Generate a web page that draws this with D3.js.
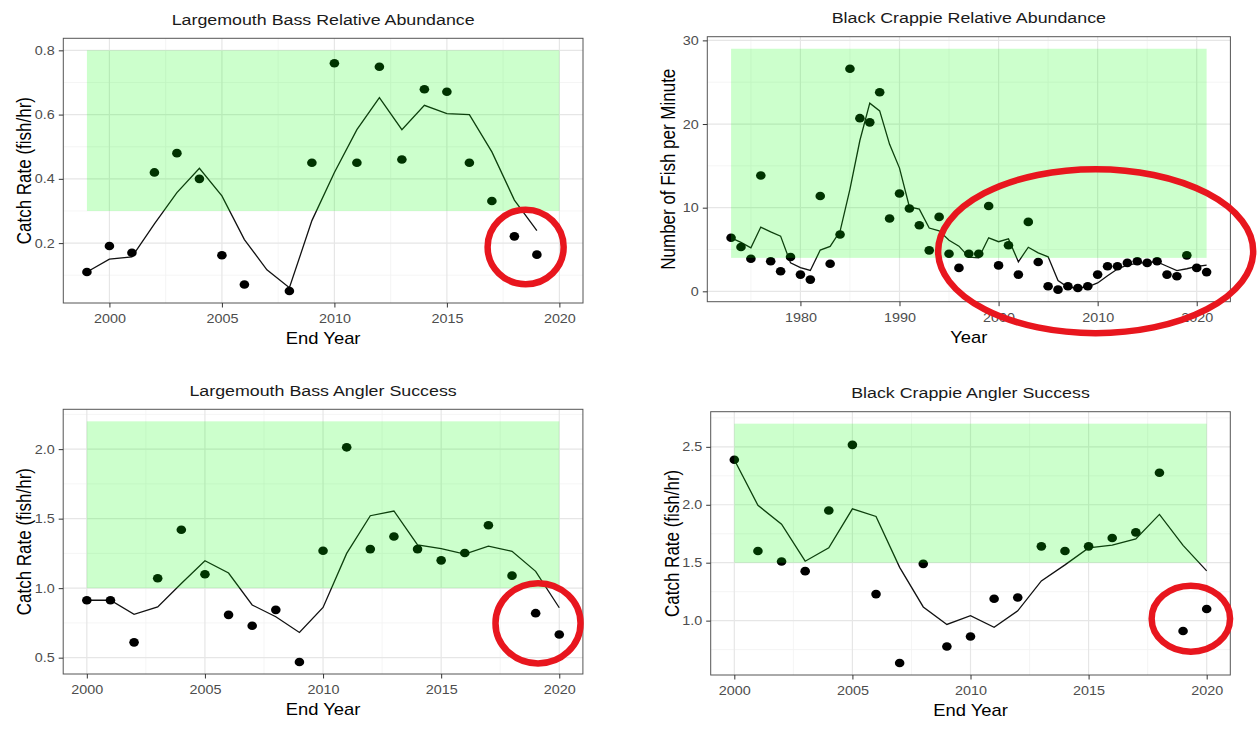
<!DOCTYPE html>
<html lang="en">
<head>
    <meta charset="UTF-8">
    <title>Largemouth Bass and Black Crappie Trends</title>
    <script src="https://d3js.org/d3.v7.min.js"></script>
    <style>
        body { margin: 0; background: white; }
        svg { display: block; font-family: "Liberation Sans", Arial, Helvetica, sans-serif; }
    </style>
</head>
<body>
    <svg width="1259" height="730"></svg>

    <script>
        // ---- Largemouth Bass Relative Abundance ----
        const lmbRaYears = [1999, 2000, 2001, 2002, 2003, 2004, 2005, 2006, 2008, 2009, 2010,
                            2011, 2012, 2013, 2014, 2015, 2016, 2017, 2018, 2019];
        const lmbRaCatch = [0.110, 0.191, 0.170, 0.42, 0.48, 0.40, 0.162, 0.071, 0.051, 0.45, 0.76,
                            0.45, 0.749, 0.46, 0.679, 0.671, 0.45, 0.331, 0.221, 0.164];
        const lmbRaTrendYears = d3.range(1999, 2020);
        const lmbRaTrend = [0.110, 0.150, 0.157, 0.260, 0.357, 0.433, 0.347, 0.211, 0.117, 0.061, 0.27,
                            0.420, 0.553, 0.653, 0.553, 0.629, 0.603, 0.600, 0.484, 0.334, 0.239];
        const lmbRaBand = [1999, 2020, 0.3, 0.8];

        // ---- Black Crappie Relative Abundance ----
        const bcRaYears = d3.range(1973, 2022);
        const bcRaCatch = [6.4, 5.3, 3.9, 13.85, 3.6, 2.4, 4.1, 2.0, 1.4, 11.4,
                           3.3, 6.8, 26.6, 20.7, 20.2, 23.8, 8.7, 11.7, 9.9, 7.9,
                           4.9, 8.9, 4.5, 2.8, 4.5, 4.5, 10.2, 3.1, 5.5, 2.0,
                           8.3, 3.5, 0.6, 0.2, 0.6, 0.4, 0.6, 2.0, 3.0, 3.0,
                           3.4, 3.6, 3.4, 3.6, 2.0, 1.8, 4.3, 2.8, 2.3];
        const bcRaTrend = [6.4, 5.85, 5.2, 7.68, 7.1, 6.6, 3.4, 2.83, 2.5, 4.93,
                           5.37, 7.17, 12.23, 18.03, 22.5, 21.57, 17.57, 14.73, 10.1, 9.83,
                           7.57, 7.23, 6.1, 5.4, 4.1, 4.0, 6.4, 5.93, 6.27, 3.53,
                           5.27, 4.6, 4.13, 1.3, 0.47, 0.4, 0.53, 1.0, 1.87, 2.67,
                           3.13, 3.33, 3.47, 3.53, 3.0, 2.47, 2.7, 2.97, 3.13];
        const bcRaBand = [1973, 2021, 4, 29];

        // ---- Largemouth Bass Angler Success ----
        const lmbAsYears = d3.range(2000, 2021);
        const lmbAsCatch = [0.913, 0.913, 0.61, 1.071, 1.42, 1.10, 0.808, 0.729, 0.844, 0.469, 1.269,
                            2.013, 1.281, 1.372, 1.281, 1.20, 1.253, 1.453, 1.09, 0.82, 0.667];
        const lmbAsTrend = [0.913, 0.913, 0.812, 0.865, 1.034, 1.197, 1.109, 0.879, 0.794, 0.681, 0.861,
                            1.25, 1.521, 1.555, 1.311, 1.284, 1.245, 1.302, 1.265, 1.121, 0.859];
        const lmbAsBand = [2000, 2020, 1.0, 2.2];

        // ---- Black Crappie Angler Success ----
        const bcAsYears = d3.range(2000, 2021);
        const bcAsCatch = [2.388, 1.601, 1.51, 1.427, 1.95, 2.517, 1.229, 0.634, 1.49, 0.777, 0.863,
                           1.189, 1.20, 1.641, 1.601, 1.641, 1.713, 1.762, 2.277, 0.911, 1.10];
        const bcAsTrend = [2.388, 1.995, 1.833, 1.513, 1.629, 1.965, 1.899, 1.46, 1.118, 0.967, 1.043,
                           0.943, 1.084, 1.343, 1.481, 1.628, 1.652, 1.705, 1.917, 1.65, 1.429];
        const bcAsBand = [2000, 2020, 1.5, 2.7];

        // tick labels
        const xTicksRecent = [2000, 2005, 2010, 2015, 2020];
        const xTicksLong = [1980, 1990, 2000, 2010, 2020];
        const yTicksLmbRa = [0.2, 0.4, 0.6, 0.8];
        const yTicksBcRa = [0, 10, 20, 30];
        const yTicksLmbAs = [0.5, 1.0, 1.5, 2.0];
        const yTicksBcAs = [1.0, 1.5, 2.0, 2.5];

        // red hand-drawn circles: [centre year, centre value, radius in years, radius in value]
        const ringLmbRa = [2018.5, 0.188, 1.69, 0.116];
        const ringBcRa = [2009.8, 4.8, 15.9, 9.8];
        const ringLmbAs = [2019.1, 0.747, 1.8, 0.289];
        const ringBcAs = [2019.33, 1.017, 1.66, 0.285];

        const SX = 1.15; // the source picture is stretched sideways

        const panels = [
            {title: "Largemouth Bass Relative Abundance", xLab: "End Year", yLab: "Catch Rate (fish/hr)",
             box: [63.3, 583, 38.3, 303], px: lmbRaYears, py: lmbRaCatch, lx: lmbRaTrendYears, ly: lmbRaTrend,
             band: lmbRaBand, xt: xTicksRecent, yt: yTicksLmbRa, fmt: d3.format(".1f"), ring: ringLmbRa},
            {title: "Black Crappie Relative Abundance", xLab: "Year", yLab: "Number of Fish per Minute",
             box: [707.3, 1230.4, 36.7, 301.7], px: bcRaYears, py: bcRaCatch, lx: bcRaYears, ly: bcRaTrend,
             band: bcRaBand, xt: xTicksLong, yt: yTicksBcRa, fmt: d3.format("d"), ring: ringBcRa},
            {title: "Largemouth Bass Angler Success", xLab: "End Year", yLab: "Catch Rate (fish/hr)",
             box: [63.2, 582.9, 409.3, 674], px: lmbAsYears, py: lmbAsCatch, lx: lmbAsYears, ly: lmbAsTrend,
             band: lmbAsBand, xt: xTicksRecent, yt: yTicksLmbAs, fmt: d3.format(".1f"), ring: ringLmbAs},
            {title: "Black Crappie Angler Success", xLab: "End Year", yLab: "Catch Rate (fish/hr)",
             box: [710.7, 1230.3, 411.7, 675], px: bcAsYears, py: bcAsCatch, lx: bcAsYears, ly: bcAsTrend,
             band: bcAsBand, xt: xTicksRecent, yt: yTicksBcAs, fmt: d3.format(".1f"), ring: ringBcAs}
        ];

        const svg = d3.select("svg");

        function addText(parent, x, y, s, size, fill, rot) {
            return parent.append("text")
                .attr("transform", `translate(${x},${y}) scale(${SX},1)` + (rot ? ` rotate(${rot})` : ""))
                .attr("text-anchor", "middle")
                .style("font-size", size + "px")
                .attr("fill", fill)
                .text(s);
        }

        // ggplot style 5% padding
        function padded(vals) {
            const [lo, hi] = d3.extent(vals);
            const e = (hi - lo) * 0.05;
            return [lo - e, hi + e];
        }

        function minorTicks(major, domain) {
            const step = major[1] - major[0];
            const out = [];
            for (let v = major[0] - step / 2; v <= domain[1]; v += step) {
                if (v >= domain[0]) out.push(v);
            }
            return out;
        }

        function drawPanel(p) {
            const [x0, x1, y0, y1] = p.box;
            const x = d3.scaleLinear()
                .domain(padded(p.px.concat(p.lx, [p.band[0], p.band[1]])))
                .range([x0, x1]);
            const y = d3.scaleLinear()
                .domain(padded(p.py.concat(p.ly, [p.band[2], p.band[3]])))
                .range([y1, y0]);

            const g = svg.append("g");

            // grid
            const grid = g.append("g").attr("fill", "none");
            minorTicks(p.xt, x.domain()).forEach(v => grid.append("line")
                .attr("x1", x(v)).attr("x2", x(v)).attr("y1", y0).attr("y2", y1)
                .attr("stroke", "#f2f2f2").attr("stroke-width", 0.8));
            minorTicks(p.yt, y.domain()).forEach(v => grid.append("line")
                .attr("x1", x0).attr("x2", x1).attr("y1", y(v)).attr("y2", y(v))
                .attr("stroke", "#f2f2f2").attr("stroke-width", 0.8));
            p.xt.forEach(v => grid.append("line")
                .attr("x1", x(v)).attr("x2", x(v)).attr("y1", y0).attr("y2", y1)
                .attr("stroke", "#e6e6e6").attr("stroke-width", 1.2));
            p.yt.forEach(v => grid.append("line")
                .attr("x1", x0).attr("x2", x1).attr("y1", y(v)).attr("y2", y(v))
                .attr("stroke", "#e6e6e6").attr("stroke-width", 1.2));

            // trend line
            const trend = p.lx.map((yr, i) => [yr, p.ly[i]]);
            g.append("path")
                .datum(trend)
                .attr("fill", "none")
                .attr("stroke", "#111")
                .attr("stroke-width", 1.3)
                .attr("d", d3.line().x(d => x(d[0])).y(d => y(d[1])));

            // points
            g.selectAll(".pt")
                .data(p.px.map((yr, i) => [yr, p.py[i]]))
                .enter().append("ellipse")
                .attr("class", "pt")
                .attr("cx", d => x(d[0]))
                .attr("cy", d => y(d[1]))
                .attr("rx", 4.8)
                .attr("ry", 4.3)
                .attr("fill", "#000");

            // target range, laid over the data
            g.append("rect")
                .attr("x", x(p.band[0]))
                .attr("width", x(p.band[1]) - x(p.band[0]))
                .attr("y", y(p.band[3]))
                .attr("height", y(p.band[2]) - y(p.band[3]))
                .attr("fill", "#00ff00")
                .attr("fill-opacity", 0.2);

            // panel border
            g.append("rect")
                .attr("x", x0).attr("y", y0)
                .attr("width", x1 - x0).attr("height", y1 - y0)
                .attr("fill", "none")
                .attr("stroke", "#555")
                .attr("stroke-width", 1);

            // axes
            const ax = g.append("g")
                .attr("transform", `translate(0,${y1})`)
                .call(d3.axisBottom(x).tickValues(p.xt).tickSize(4.5).tickSizeOuter(0).tickFormat(d3.format("d")));
            const ay = g.append("g")
                .attr("transform", `translate(${x0},0)`)
                .call(d3.axisLeft(y).tickValues(p.yt).tickSize(4.5).tickSizeOuter(0).tickFormat(p.fmt));
            [ax, ay].forEach(a => {
                a.select(".domain").remove();
                a.selectAll(".tick line").attr("stroke", "#333");
                a.selectAll(".tick text")
                    .attr("fill", "#4d4d4d")
                    .style("font-size", "12.5px")
                    .style("font-family", "inherit")
                    .attr("transform", `scale(${SX},1)`);
            });
            ax.selectAll(".tick text").attr("y", 20).attr("dy", null);
            ay.selectAll(".tick text").attr("x", -8.5 / SX);

            // labels
            addText(g, (x0 + x1) / 2, y0 - 13.5, p.title, 15.5, "#1a1a1a");
            addText(g, (x0 + x1) / 2, y1 + 41, p.xLab, 16, "#000");
            addText(g, x0 - 32, (y0 + y1) / 2, p.yLab, 17, "#000", -90);

            return {x, y};
        }

        const scales = panels.map(drawPanel);

        // red circles on top of everything
        panels.forEach((p, i) => {
            const {x, y} = scales[i];
            const [cx, cy, rx, ry] = p.ring;
            svg.append("ellipse")
                .attr("cx", x(cx))
                .attr("cy", y(cy))
                .attr("rx", x(cx + rx) - x(cx))
                .attr("ry", y(cy) - y(cy + ry))
                .attr("fill", "none")
                .attr("stroke", "#e8161e")
                .attr("stroke-width", 6.5);
        });
    </script>
</body>
</html>
